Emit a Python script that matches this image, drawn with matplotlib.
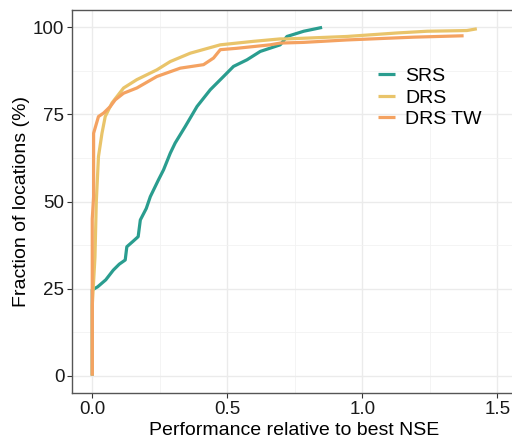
import matplotlib
matplotlib.use("Agg")
import matplotlib.pyplot as plt
from matplotlib.ticker import MultipleLocator

plt.rcParams['font.family'] = ['Liberation Sans', 'DejaVu Sans']

# ECDF-like curves (x: perf. relative to best NSE, y: % of locations)
srs_x = [0.0, 0.0, 0.02, 0.05, 0.078, 0.1, 0.122, 0.128, 0.15, 0.17, 0.178, 0.2, 0.215,
         0.245, 0.264, 0.289, 0.307, 0.344, 0.388, 0.437, 0.486, 0.523, 0.573, 0.622,
         0.696, 0.721, 0.783, 0.851]
srs_y = [0.0, 24.6, 25.5, 27.5, 30.3, 32.0, 33.2, 37.0, 38.5, 39.9, 44.7, 48.0, 51.4,
         56.2, 59.1, 63.9, 66.8, 71.5, 77.3, 82.1, 85.9, 88.8, 90.7, 93.1,
         95.0, 97.4, 98.9, 100.0]

drs_x = [0.0, 0.0, 0.01, 0.015, 0.023, 0.036, 0.048, 0.073, 0.116, 0.165, 0.239, 0.289,
         0.363, 0.474, 0.597, 0.696, 0.721, 0.943, 1.128, 1.24, 1.387, 1.424]
drs_y = [0.0, 20.0, 34.0, 50.0, 62.9, 69.6, 74.4, 78.3, 82.6, 85.0, 87.8, 90.2,
         92.6, 95.0, 96.0, 96.7, 96.7, 97.4, 98.4, 98.9, 99.1, 99.6]

tw_x = [0.0, 0.0, 0.005, 0.005, 0.023, 0.042, 0.067, 0.085, 0.116, 0.165, 0.239, 0.326,
        0.412, 0.449, 0.474, 0.535, 0.659, 0.696, 0.783, 0.943, 1.19, 1.375]
tw_y = [0.0, 45.0, 51.4, 69.6, 74.4, 75.4, 77.3, 79.2, 81.1, 82.6, 85.9, 88.3,
        89.3, 91.2, 93.6, 94.0, 95.0, 95.5, 95.7, 96.4, 97.2, 97.6]

labels = ['SRS', 'DRS', 'DRS TW']
colors = ['#2a9d8f', '#e9c46a', '#f4a261']

fig = plt.figure(figsize=(5.12, 4.42), dpi=100)
ax = fig.add_axes([72/512, 49/442, 444/512, 383/442])

for xs, ys, lab, col in zip([srs_x, drs_x, tw_x], [srs_y, drs_y, tw_y], labels, colors):
    ax.plot(xs, ys, color=col, lw=2.3, label=lab, solid_capstyle='butt')

ax.set_xlim(-0.075, 1.569)
ax.set_ylim(-5, 105)
ax.xaxis.set_minor_locator(MultipleLocator(0.25))
ax.yaxis.set_major_locator(MultipleLocator(25))
ax.yaxis.set_minor_locator(MultipleLocator(12.5))
ax.set_xticks([0, 0.5, 1.0, 1.5])
ax.set_xticklabels(['0.0', '0.5', '1.0', '1.5'])

ax.grid(which='major', color='#ebebeb', lw=1.0)
ax.grid(which='minor', color='#f2f2f2', lw=0.6)
ax.set_axisbelow(True)
ax.tick_params(which='major', length=3.5, width=0.8, color='#333333', labelsize=13.5,
               labelcolor='#1a1a1a', pad=2)
ax.tick_params(which='minor', length=0)
for s in ax.spines.values():
    s.set_color('#555555')
    s.set_linewidth(1.0)

ax.set_xlabel('Performance relative to best NSE', fontsize=14, color='black', labelpad=3)
ax.set_ylabel('Fraction of locations (%)', fontsize=14, color='black', labelpad=2)

ax.legend(loc='upper left', bbox_to_anchor=(0.672, 0.87), frameon=False, fontsize=14,
          handlelength=0.88, handletextpad=0.5, labelspacing=0.2, borderaxespad=0)

fig.savefig('out.png', dpi=100)
